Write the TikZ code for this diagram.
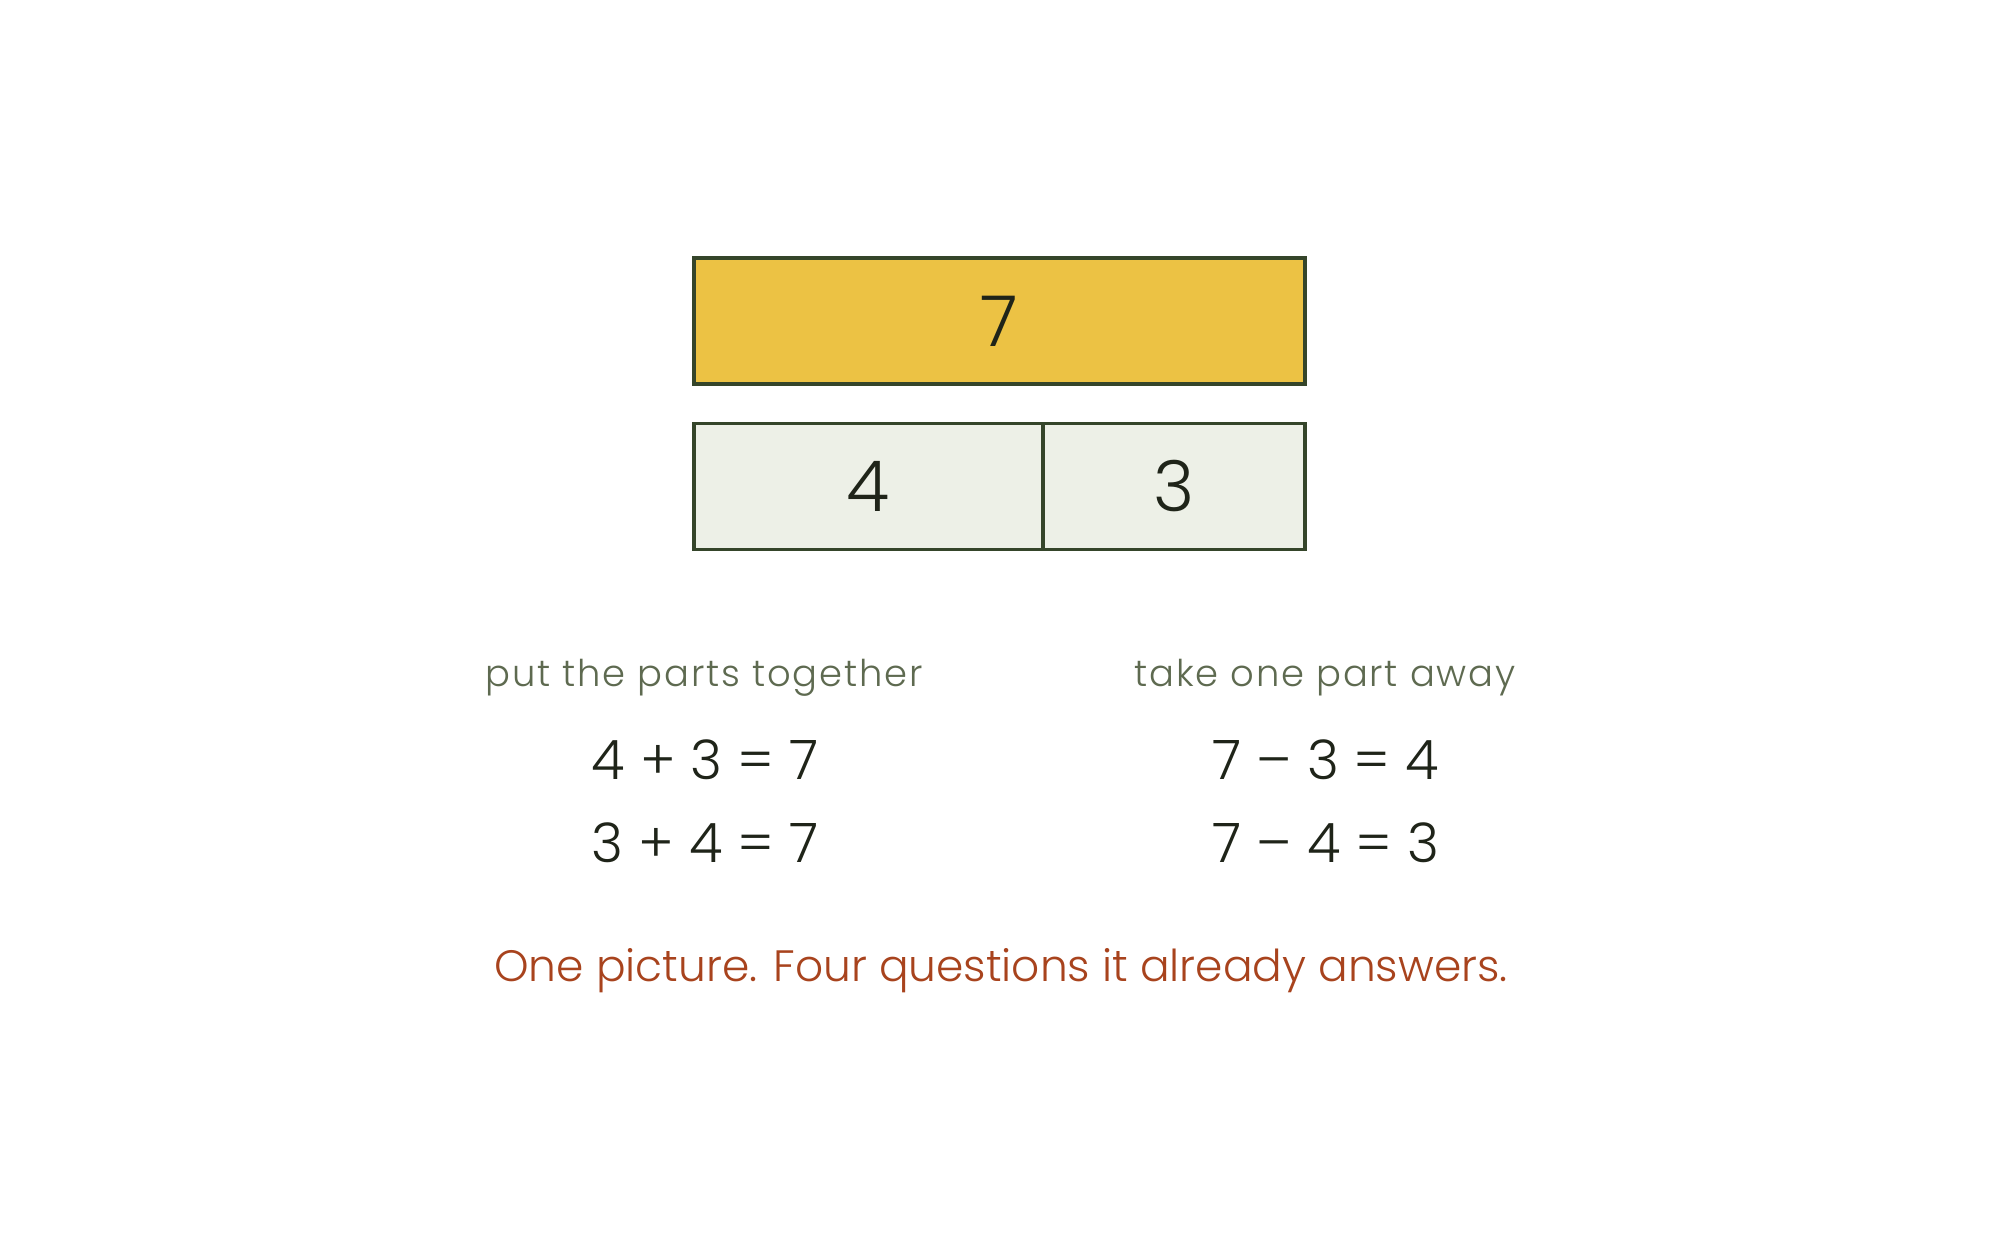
\documentclass[tikz,border=0pt]{standalone}
\usepackage{fontspec}
\setmainfont{Poppins}[UprightFont=* Light]
\definecolor{barfill}{HTML}{ECC244}
\definecolor{barline}{HTML}{35452A}
\definecolor{partfill}{HTML}{EDF0E7}
\definecolor{headcol}{HTML}{5E6A50}
\definecolor{numcol}{HTML}{1F2419}
\definecolor{notecol}{HTML}{A8431D}
\tikzset{
  barbox/.style={draw=barline, line width=0.9pt, rectangle, inner sep=0pt, minimum height=1.26cm, text=numcol, font=\fontsize{20}{24}\selectfont},
  heading/.style={anchor=base, text=headcol, font=\fontsize{10.5}{12}\selectfont\addfontfeature{LetterSpace=5}, inner sep=0pt},
  equation/.style={anchor=base, text=numcol, font=\fontsize{15.5}{18}\selectfont, inner sep=0pt},
  note/.style={anchor=base, text=notecol, font=\fontsize{12.5}{15}\selectfont, inner sep=0pt}
}
\begin{document}
\begin{tikzpicture}
\useasboundingbox[fill=white] (0,0) rectangle (20,12.5);
\node[barbox, fill=barfill, minimum width=6.11cm] (whole) at (9.995,9.29) {7};
\node[barbox, fill=partfill, minimum width=3.49cm] (partA) at (8.685,7.635) {4};
\node[barbox, fill=partfill, minimum width=2.62cm] (partB) at (11.74,7.635) {3};
\node[heading] (hadd) at (7.04,5.63) {put the parts together};
\node[heading] (hsub) at (13.25,5.63) {take one part away};
\node[equation] (e1) at (7.05,4.70) {4 + 3 = 7};
\node[equation] (e2) at (7.05,3.87) {3 + 4 = 7};
\node[equation] (e3) at (13.26,4.70) {7 – 3 = 4};
\node[equation] (e4) at (13.26,3.87) {7 – 4 = 3};
\node[note] (msg) at (10.01,2.68) {One picture. Four questions it already answers.};
\end{tikzpicture}
\end{document}
